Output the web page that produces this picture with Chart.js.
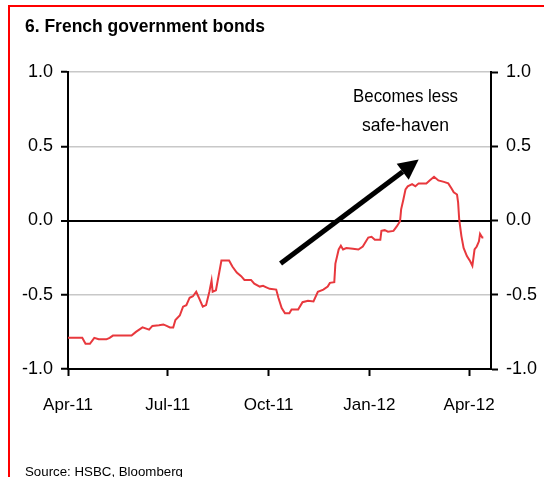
<!DOCTYPE html>
<html>
<head>
<meta charset="utf-8">
<script src="https://cdn.jsdelivr.net/npm/chart.js@4.4.0/dist/chart.umd.min.js"></script>
<style>
  html, body { margin: 0; padding: 0; background: #fff; }
  #wrap { width: 544px; height: 477px; }
</style>
</head>
<body>
<div id="wrap"><canvas id="chart" width="544" height="477"></canvas></div>
<script>
// days counted from 1 Apr 2011, spread in percentage points
const days = [0, 13, 16, 20, 24, 28, 35, 38, 41, 58, 62, 68, 74, 77, 83, 87, 90, 93, 96, 98,
  102, 105, 108, 111, 114, 117, 120, 123, 126, 129, 131, 132, 135, 138, 140, 147, 150, 154, 158, 161,
  167, 170, 175, 178, 181, 184, 190, 192, 195, 198, 202, 204, 210, 214, 219, 224, 228, 233, 237, 239,
  243, 244, 247, 249, 251, 254, 260, 265, 269, 274, 277, 280, 285, 286, 289, 292, 297, 300, 303, 304,
  306, 308, 310, 314, 317, 320, 327, 330, 334, 338, 343, 347, 350, 352, 355, 356, 357, 359, 361, 364,
  367, 369, 371, 373, 375, 376, 378, 379];
const spread = [-0.79, -0.79, -0.83, -0.83, -0.79, -0.80, -0.80, -0.79, -0.775, -0.775, -0.75, -0.72, -0.735, -0.71, -0.705, -0.70, -0.71, -0.72, -0.72, -0.67,
  -0.64, -0.58, -0.57, -0.52, -0.51, -0.48, -0.53, -0.58, -0.57, -0.48, -0.405, -0.48, -0.47, -0.35, -0.27, -0.27, -0.31, -0.35, -0.375, -0.40,
  -0.40, -0.425, -0.445, -0.44, -0.45, -0.46, -0.465, -0.52, -0.59, -0.625, -0.625, -0.60, -0.60, -0.55, -0.54, -0.545, -0.48, -0.465, -0.445, -0.42,
  -0.415, -0.29, -0.195, -0.17, -0.195, -0.185, -0.19, -0.195, -0.175, -0.115, -0.11, -0.13, -0.13, -0.07, -0.065, -0.075, -0.07, -0.04, -0.005, 0.075,
  0.14, 0.21, 0.23, 0.245, 0.23, 0.25, 0.25, 0.27, 0.295, 0.27, 0.26, 0.25, 0.215, 0.19, 0.175, 0.12, 0.005, -0.105, -0.185, -0.24,
  -0.275, -0.305, -0.195, -0.175, -0.14, -0.09, -0.115, -0.115];

const monthDays = [0, 91, 183, 275, 366];
const monthLabels = ['Apr-11', 'Jul-11', 'Oct-11', 'Jan-12', 'Apr-12'];
const yTicks = [-1, -0.5, 0, 0.5, 1];
const noteLines = ['Becomes less', 'safe-haven'];

const FONT = 'Liberation Sans, Arial, Helvetica, sans-serif';

// draw a string squeezed/stretched to a given width
function fitText(ctx, text, x, y, width, align) {
  const w = ctx.measureText(text).width;
  ctx.save();
  ctx.translate(x, y);
  ctx.scale(width / w, 1);
  ctx.textAlign = align;
  ctx.fillText(text, 0, 0);
  ctx.restore();
}

const decor = {
  id: 'decor',
  beforeDraw(chart) {
    const c = chart.ctx;
    c.save();
    c.fillStyle = '#fff';
    c.fillRect(0, 0, chart.width, chart.height);
    // red frame, top and left
    c.fillStyle = '#ff0000';
    c.fillRect(8, 5, chart.width - 8, 2);
    c.fillRect(8, 5, 2, chart.height - 5);
    c.fillStyle = '#000';
    c.textBaseline = 'alphabetic';
    c.font = 'bold 18px ' + FONT;
    fitText(c, '6. French government bonds', 25, 32, 240, 'left');
    c.font = '13px ' + FONT;
    fitText(c, 'Source: HSBC, Bloomberg', 25, 476, 158, 'left');
    c.restore();
  },
  afterDatasetsDraw(chart) {
    const c = chart.ctx;
    const xs = chart.scales.x, ys = chart.scales.y;
    const x0 = xs.getPixelForValue(194), y0 = ys.getPixelForValue(-0.29);
    const x1 = xs.getPixelForValue(320), y1 = ys.getPixelForValue(0.41);
    const ang = Math.atan2(y1 - y0, x1 - x0);
    const head = 20, half = 10;
    const bx = x1 - head * Math.cos(ang), by = y1 - head * Math.sin(ang);
    c.save();
    c.strokeStyle = '#000';
    c.fillStyle = '#000';
    c.lineWidth = 5;
    c.beginPath();
    c.moveTo(x0, y0);
    c.lineTo(bx, by);
    c.stroke();
    c.beginPath();
    c.moveTo(x1, y1);
    c.lineTo(bx + half * Math.sin(ang), by - half * Math.cos(ang));
    c.lineTo(bx - half * Math.sin(ang), by + half * Math.cos(ang));
    c.closePath();
    c.fill();

    c.font = '19px ' + FONT;
    c.textBaseline = 'alphabetic';
    const nx = xs.getPixelForValue(308);
    fitText(c, noteLines[0], nx, ys.getPixelForValue(0.80), 105, 'center');
    fitText(c, noteLines[1], nx, ys.getPixelForValue(0.60), 87, 'center');
    c.restore();
  }
};

const xFont = { family: FONT, size: 17 };
const yFont = { family: FONT, size: 18 };
const setYTicks = axis => { axis.ticks = yTicks.map(v => ({ value: v })); };

new Chart(document.getElementById('chart'), {
  type: 'line',
  data: {
    datasets: [{
      data: days.map((d, i) => ({ x: d, y: spread[i] })),
      borderColor: '#e8383d',
      borderWidth: 2,
      pointRadius: 0,
      tension: 0,
      yAxisID: 'y'
    }]
  },
  options: {
    responsive: false,
    animation: false,
    events: [],
    layout: { padding: { top: 72, left: 0, right: 0, bottom: 0 } },
    plugins: { legend: { display: false }, tooltip: { enabled: false } },
    scales: {
      x: {
        type: 'linear',
        min: 0,
        max: 386,
        afterBuildTicks: axis => { axis.ticks = monthDays.map(v => ({ value: v })); },
        afterFit: axis => { axis.height = 108; },
        ticks: {
          callback: v => monthLabels[monthDays.indexOf(v)],
          autoSkip: false,
          maxRotation: 0,
          color: '#000',
          font: xFont,
          padding: 19
        },
        grid: { drawOnChartArea: false, tickLength: 7, tickColor: '#000', tickWidth: 2 },
        border: { color: '#000', width: 2 }
      },
      y: {
        position: 'left',
        min: -1,
        max: 1,
        afterBuildTicks: setYTicks,
        afterFit: axis => { axis.width = 68; },
        ticks: { callback: v => v.toFixed(1), color: '#000', font: yFont, padding: 8 },
        grid: {
          color: c => c.tick && c.tick.value === 0 ? '#000' : '#c8c8c8',
          lineWidth: c => c.tick && c.tick.value === 0 ? 2 : 1.5,
          tickColor: '#000',
          tickWidth: 2,
          tickLength: 7
        },
        border: { color: '#000', width: 2 }
      },
      y2: {
        position: 'right',
        min: -1,
        max: 1,
        afterBuildTicks: setYTicks,
        afterFit: axis => { axis.width = 53; },
        ticks: { callback: v => v.toFixed(1), color: '#000', font: yFont, padding: 8 },
        grid: { drawOnChartArea: false, tickColor: '#000', tickWidth: 2, tickLength: 7 },
        border: { color: '#000', width: 2 }
      }
    }
  },
  plugins: [decor]
});
</script>
</body>
</html>
